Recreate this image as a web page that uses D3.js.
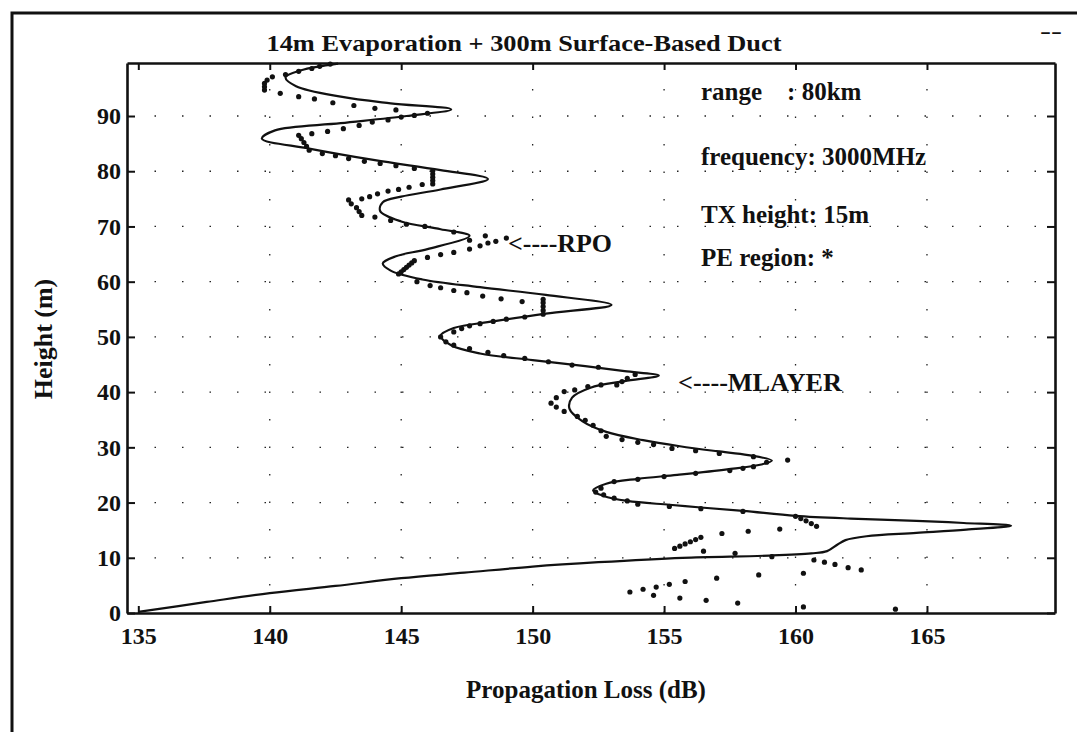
<!DOCTYPE html>
<html><head><meta charset="utf-8">
<script src="https://cdn.jsdelivr.net/npm/d3@7"></script>
<style>
body{margin:0;background:#fff}
svg{display:block}
text{font-family:"Liberation Serif","Times New Roman",serif;font-weight:bold;fill:#111}
</style>
</head><body>
<svg id="chart" width="1077" height="732"></svg>
<script>
// ---------- data ----------
const titleText = "14m Evaporation + 300m Surface-Based Duct";
const xLabelText = "Propagation Loss (dB)";
const yLabelText = "Height (m)";
const xTicks = [135, 140, 145, 150, 155, 160, 165];
const yTicks = [0, 10, 20, 30, 40, 50, 60, 70, 80, 90];
const xDomain = [134.57, 169.87];
const yDomain = [0, 99.6];
const infoLines = ["range    : 80km", "frequency: 3000MHz", "TX height: 15m", "PE region: *"];
const seriesLabels = ["<----MLAYER", "<----RPO"];

// MLAYER (solid line): propagation loss (dB) and height (m), bottom to top
const mlayerLoss = [135.0,137.6,140.0,142.5,145.0,147.4,150.0,152.5,155.7,159.0,160.6,161.2,161.6,161.9,162.7,164.6,166.5,168.2,166.4,164.6,162.1,160.0,158.0,156.4,155.2,153.6,152.7,152.3,152.8,154.0,155.5,157.4,158.7,159.1,158.2,157.0,155.6,154.2,152.8,151.9,151.4,151.5,152.2,153.5,154.8,153.5,152.0,150.0,148.0,146.9,146.5,147.0,148.5,150.5,153.0,150.5,148.0,145.8,144.6,144.3,144.8,146.0,147.6,146.5,145.0,144.2,144.3,145.0,146.5,148.3,146.5,144.0,141.5,139.7,140.2,142.7,145.2,146.9,144.6,142.7,141.0,140.6,141.2,142.6];
const mlayerHeight = [0.2,2.0,3.6,4.9,6.3,7.3,8.4,9.2,10.0,10.4,10.8,11.2,12.4,13.2,13.9,14.5,15.1,15.8,16.3,16.7,17.1,17.6,18.5,19.1,19.6,20.3,21.2,22.2,23.4,24.3,25.0,26.0,26.9,27.6,28.6,29.3,30.2,31.3,32.8,34.7,37.0,39.0,40.8,42.0,43.0,43.8,44.7,45.8,47.0,48.5,50.2,51.6,52.8,54.2,55.8,57.6,59.0,60.4,62.0,63.3,64.6,65.9,68.3,69.5,70.9,72.8,74.4,75.4,76.7,78.6,80.2,82.0,84.1,85.9,87.4,88.7,90.0,91.2,92.3,93.5,95.4,97.0,98.3,99.5];

// RPO (dots): propagation loss (dB) and height (m)
const rpoLoss = [153.7,154.2,154.7,154.6,155.2,155.8,155.6,156.6,157.0,157.8,158.6,160.3,160.3,160.7,161.1,161.5,162.0,162.5,163.8,156.5,157.7,159.1,
155.4,155.6,155.8,156.0,156.2,156.4,157.2,158.2,159.4,160.0,160.2,160.4,160.6,160.8,
158.0,156.4,155.2,154.0,153.6,153.1,152.7,152.4,152.6,153.1,154.0,155.0,156.2,157.5,158.0,158.4,158.9,159.7,
158.4,157.1,156.2,155.3,154.6,154.0,153.4,152.8,152.6,152.3,152.0,151.7,151.2,150.9,150.7,150.9,151.2,151.6,152.1,152.6,
153.2,153.4,153.6,153.9,152.5,151.5,150.6,149.7,148.9,148.3,147.6,147.0,146.7,146.5,
147.0,147.3,147.6,148.0,148.5,149.0,149.7,150.4,150.4,150.4,150.4,150.4,
149.6,148.8,148.1,147.5,147.0,146.5,146.1,145.6,144.9,145.0,145.1,145.2,145.3,145.4,145.5,
146.0,146.5,147.0,147.6,148.0,148.3,148.6,149.0,148.2,147.6,147.0,145.9,145.2,144.6,144.0,
143.5,143.4,143.3,143.1,143.0,143.5,143.8,144.1,144.5,144.9,145.3,145.8,146.2,146.2,146.2,146.2,146.2,
145.5,144.8,144.2,143.6,143.0,142.5,142.0,141.5,141.4,141.3,141.2,141.1,
141.6,142.2,142.8,143.4,143.9,144.5,145.0,145.5,146.0,144.8,144.0,143.2,142.4,141.7,141.1,140.4,
139.8,139.8,139.8,139.9,140.1,140.6,141.1,141.6,141.9,142.3];
const rpoHeight = [3.8,4.3,4.7,3.2,5.2,5.7,2.7,2.3,6.3,1.8,6.9,7.2,1.1,9.6,9.2,8.8,8.2,7.8,0.7,11.2,10.8,10.2,
11.7,12.1,12.5,12.9,13.3,13.7,14.4,14.8,15.2,17.5,17.1,16.7,16.2,15.7,
18.4,18.9,19.3,19.7,20.3,20.8,21.4,21.9,22.6,23.8,24.2,24.7,25.3,25.8,26.2,26.5,27.3,27.7,
28.3,28.9,29.4,29.8,30.5,30.9,31.4,32.0,33.0,34.0,34.9,35.6,36.5,37.3,38.0,39.0,40.1,40.4,41.0,41.3,
41.3,41.9,42.5,43.2,44.5,44.9,45.5,46.1,46.6,47.2,47.9,48.5,49.1,50.0,
50.9,51.5,52.0,52.4,52.8,53.2,53.6,54.1,54.8,55.5,56.2,56.8,
56.4,56.9,57.4,58.0,58.4,58.9,59.3,60.0,61.4,61.8,62.2,62.6,63.0,63.4,63.8,
64.4,64.9,65.3,65.9,66.5,67.0,67.3,67.9,68.3,67.5,69.0,70.0,70.4,71.1,71.7,
72.0,72.7,73.4,74.1,74.8,75.0,75.4,75.9,76.4,76.7,77.1,77.6,77.7,78.3,78.9,79.5,80.1,
80.5,81.0,81.4,81.8,82.3,82.8,83.2,83.8,84.5,85.2,85.9,86.5,
86.8,87.2,87.7,88.3,88.9,89.3,89.8,90.1,90.5,91.1,91.4,91.9,92.4,93.1,93.5,94.1,
94.7,95.3,95.9,96.5,97.1,97.5,98.1,98.6,99.0,99.4];

// ---------- drawing ----------
const svg = d3.select("#chart");
const plot = {left:127, right:1055, top:63, bottom:613};
const x = d3.scaleLinear().domain(xDomain).range([plot.left, plot.right]);
const y = d3.scaleLinear().domain(yDomain).range([plot.bottom, plot.top]);

// page frame (scan edges)
svg.append("path").attr("d","M12,732V13H1077").attr("fill","none").attr("stroke","#111").attr("stroke-width",3);
svg.append("text").attr("x",1040).attr("y",38).attr("font-size",20).attr("textLength",22).attr("lengthAdjust","spacingAndGlyphs").text("--");

// dotted grid
const grid = svg.append("g").attr("stroke","#222").attr("stroke-width",1.3).attr("stroke-dasharray","1.5,26").attr("fill","none");
grid.selectAll(".gx").data(xTicks.slice(1)).join("line")
  .attr("x1",d=>x(d)).attr("x2",d=>x(d)).attr("y1",plot.bottom).attr("y2",plot.top);
grid.selectAll(".gy").data(yTicks.slice(1)).join("line")
  .attr("y1",d=>y(d)).attr("y2",d=>y(d)).attr("x1",plot.left).attr("x2",plot.right);

// axes
function styleAxis(g){
  g.select(".domain").attr("stroke","#111").attr("stroke-width",2.6);
  g.selectAll(".tick line").attr("stroke","#111").attr("stroke-width",2);
  g.selectAll("text").attr("font-family","Liberation Serif, serif").attr("font-weight","bold").attr("font-size",24).attr("fill","#111");
}
const gxB = svg.append("g").attr("transform",`translate(0,${plot.bottom})`)
  .call(d3.axisBottom(x).tickValues(xTicks).tickSize(-7).tickSizeOuter(0).tickPadding(14).tickFormat(d3.format("d")));
styleAxis(gxB);
const gxT = svg.append("g").attr("transform",`translate(0,${plot.top})`)
  .call(d3.axisTop(x).tickValues(xTicks).tickSize(-7).tickSizeOuter(0).tickFormat(""));
styleAxis(gxT);
const gyL = svg.append("g").attr("transform",`translate(${plot.left},0)`)
  .call(d3.axisLeft(y).tickValues(yTicks).tickSize(-8).tickSizeOuter(0).tickPadding(6).tickFormat(d3.format("d")));
styleAxis(gyL);
const gyR = svg.append("g").attr("transform",`translate(${plot.right},0)`)
  .call(d3.axisRight(y).tickValues(yTicks).tickSize(-8).tickSizeOuter(0).tickFormat(""));
styleAxis(gyR);

// MLAYER solid line
const mlayer = mlayerLoss.map((v,i)=>({loss:v,h:mlayerHeight[i]}));
const line = d3.line().x(d=>x(d.loss)).y(d=>y(d.h)).curve(d3.curveCatmullRom.alpha(0.5));
svg.append("path").datum(mlayer).attr("d",line).attr("fill","none").attr("stroke","#111").attr("stroke-width",2.2);

// RPO dots
const rpo = rpoLoss.map((v,i)=>({loss:v,h:rpoHeight[i]}));
svg.append("g").selectAll("circle").data(rpo).join("circle")
  .attr("cx",d=>x(d.loss)).attr("cy",d=>y(d.h)).attr("r",2.6).attr("fill","#111");

// texts
svg.append("text").attr("x",524).attr("y",51).attr("text-anchor","middle").attr("font-size",24)
  .attr("textLength",515).attr("lengthAdjust","spacingAndGlyphs").text(titleText);
svg.append("text").attr("x",586).attr("y",698).attr("text-anchor","middle").attr("font-size",25)
  .text(xLabelText);
svg.append("text").attr("transform","translate(52,339) rotate(-90)").attr("text-anchor","middle").attr("font-size",26)
  .text(yLabelText);

const infoY = [100, 165, 223, 266];
svg.append("g").selectAll("text").data(infoLines).join("text")
  .attr("x",701).attr("y",(d,i)=>infoY[i]).attr("font-size",25).style("white-space","pre").text(d=>d);

svg.append("text").attr("x",678).attr("y",391).attr("font-size",25).attr("textLength",164).attr("lengthAdjust","spacingAndGlyphs").text(seriesLabels[0]);
svg.append("text").attr("x",508).attr("y",252).attr("font-size",25).attr("textLength",104).attr("lengthAdjust","spacingAndGlyphs").text(seriesLabels[1]);
</script>
</body></html>
